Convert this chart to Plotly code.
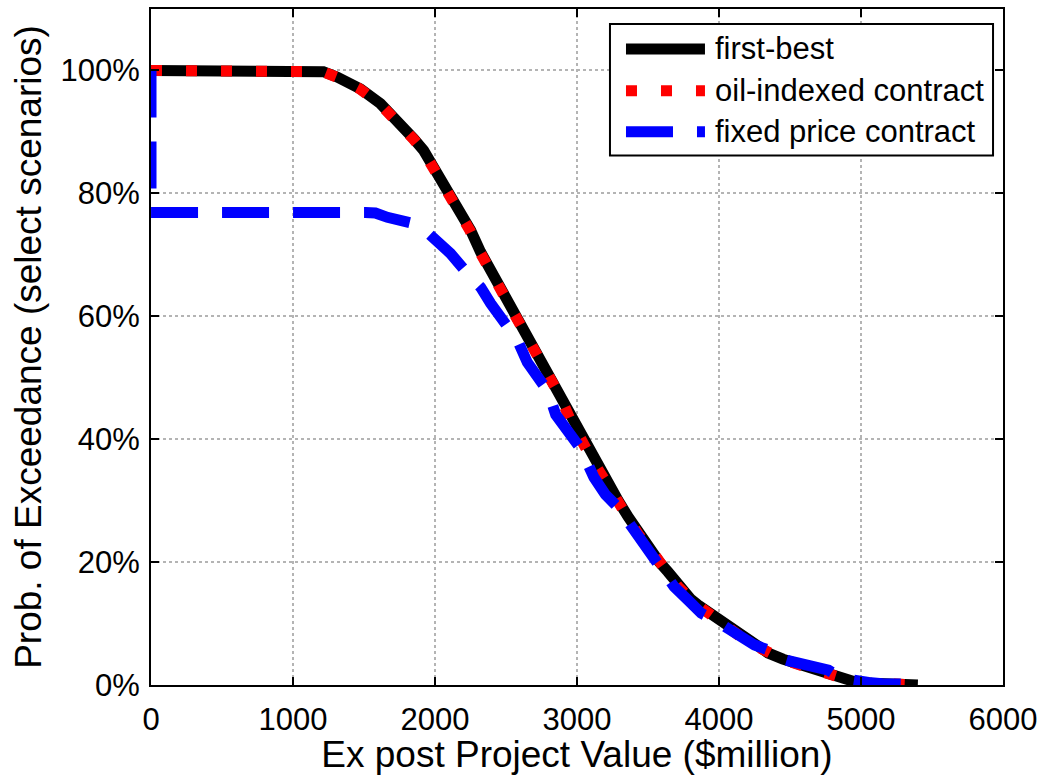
import plotly.graph_objects as go

# ---- data ----
fb_x = [0, 1165, 1214, 1313, 1404, 1475, 1616, 1700, 1778, 1850, 1920, 1980, 2040, 2110, 2159,
        2251, 2320, 2392, 2450, 2512, 2570, 2625, 2690, 2766, 2830, 2886, 2960, 3049, 3130,
        3218, 3290, 3359, 3440, 3522, 3580, 3641, 3720, 3800, 3853, 3945, 4050, 4150, 4227,
        4300, 4347, 4450, 4580, 4700, 4800, 4880, 4960, 5074, 5200, 5300, 5400]
fb_y = [1.0, 1.0, 0.998, 0.989, 0.980, 0.970, 0.946, 0.927, 0.907, 0.889, 0.870, 0.846, 0.821,
        0.800, 0.777, 0.740, 0.705, 0.675, 0.648, 0.621, 0.596, 0.572, 0.545, 0.517, 0.488,
        0.470, 0.432, 0.393, 0.360, 0.328, 0.300, 0.274, 0.245, 0.222, 0.200, 0.184, 0.160,
        0.140, 0.130, 0.115, 0.095, 0.080, 0.068, 0.058, 0.052, 0.042, 0.032, 0.022, 0.014,
        0.008, 0.005, 0.003, 0.002, 0.001, 0.0]

oil_x = [0, 1160, 1210, 1310, 1400, 1470, 1610, 1695, 1772, 1846, 1915, 1976, 2035, 2105, 2155,
         2245, 2315, 2388, 2445, 2506, 2565, 2620, 2684, 2760, 2824, 2880, 2952, 3040, 3122,
         3210, 3282, 3350, 3432, 3514, 3572, 3634, 3712, 3792, 3846, 3938, 4044, 4144, 4222,
         4296, 4343, 4446, 4576, 4696, 4796, 4876, 4956, 5070, 5196, 5296, 5390]
oil_y = [1.0, 1.0, 0.998, 0.989, 0.980, 0.970, 0.946, 0.927, 0.907, 0.889, 0.870, 0.846, 0.821,
         0.800, 0.777, 0.740, 0.705, 0.675, 0.648, 0.621, 0.596, 0.572, 0.545, 0.517, 0.488,
         0.470, 0.432, 0.393, 0.360, 0.328, 0.300, 0.274, 0.245, 0.222, 0.200, 0.184, 0.160,
         0.140, 0.130, 0.115, 0.095, 0.080, 0.068, 0.058, 0.052, 0.042, 0.032, 0.022, 0.014,
         0.008, 0.005, 0.003, 0.002, 0.001, 0.0]

fix_x = [0, 0, 1510, 1580, 1665, 1750, 1850, 1930, 1990, 2110, 2220, 2322, 2392, 2500, 2583,
         2650, 2720, 2795, 2850, 2900, 2960, 3028, 3119, 3200, 3289, 3380, 3472, 3580, 3684,
         3783, 3874, 3966, 4107, 4157, 4250, 4347, 4390, 4480, 4559, 4680, 4771, 4862, 4950,
         5053, 5150, 5378]
fix_y = [1.0, 0.769, 0.769, 0.768, 0.761, 0.757, 0.751, 0.740, 0.727, 0.702, 0.672, 0.647,
         0.621, 0.590, 0.560, 0.525, 0.500, 0.478, 0.440, 0.422, 0.405, 0.384, 0.338, 0.310,
         0.289, 0.258, 0.228, 0.190, 0.160, 0.138, 0.117, 0.106, 0.084, 0.078, 0.065, 0.057,
         0.046, 0.040, 0.036, 0.028, 0.024, 0.011, 0.006, 0.004, 0.002, 0.001]

series_names = ["first-best", "oil-indexed contract", "fixed price contract"]
x_ticks = [0, 1000, 2000, 3000, 4000, 5000, 6000]
y_ticks = [0, 0.2, 0.4, 0.6, 0.8, 1.0]
y_tick_labels = ["0%", "20%", "40%", "60%", "80%", "100%"]

# ---- styles ----
FONT = "Liberation Sans, Arial, sans-serif"
LW = 11
styles = [
    dict(color="#000000", width=LW, dash="solid"),
    dict(color="#ff0000", width=LW, dash="11px,24px"),
    dict(color="#0000ff", width=LW, dash="47px,24px"),
]

fig = go.Figure()
for (xs, ys), name, st in zip([(fb_x, fb_y), (oil_x, oil_y), (fix_x, fix_y)], series_names, styles):
    fig.add_trace(go.Scatter(x=xs, y=ys, mode="lines", name=name, line=st, showlegend=False))

# ---- manual MATLAB-like legend ----
bx0, bx1, by0, by1 = 0.5387, 0.9883, 0.7832, 0.9779
fig.add_shape(type="rect", xref="paper", yref="paper", x0=bx0, x1=bx1, y0=by0, y1=by1,
              line=dict(color="black", width=2), fillcolor="white", layer="above")
rows = [0.941, 0.879, 0.8186]
for ry, name, st in zip(rows, series_names, styles):
    fig.add_shape(type="line", xref="paper", yref="paper", x0=0.5575, x1=0.6502, y0=ry, y1=ry,
                  line=dict(color=st["color"], width=LW, dash=st["dash"]), layer="above")
    fig.add_annotation(xref="paper", yref="paper", x=0.6596, y=ry, text=name, showarrow=False,
                       xanchor="left", yanchor="middle",
                       font=dict(family=FONT, size=31, color="black"))

axis_common = dict(
    showline=True, linecolor="black", linewidth=2, mirror="ticks",
    ticks="inside", ticklen=8, tickwidth=2, tickcolor="black",
    showgrid=True, gridcolor="#b4b4b4", gridwidth=1.5, griddash="3px,3px",
    zeroline=False, tickfont=dict(family=FONT, size=31, color="black"),
)

fig.update_layout(
    width=1044, height=775,
    margin=dict(l=151, r=41, t=7, b=90),
    paper_bgcolor="white", plot_bgcolor="white",
    font=dict(family=FONT, color="black"),
    xaxis=dict(range=[0, 6000], tickvals=x_ticks, ticklabelstandoff=6,
               title=dict(text="Ex post Project Value ($million)",
                          font=dict(family=FONT, size=37, color="black"), standoff=0),
               **axis_common),
    yaxis=dict(range=[0, 1.1], tickvals=y_ticks, ticktext=y_tick_labels, ticklabelstandoff=3,
               title=dict(text="Prob. of Exceedance (select scenarios)",
                          font=dict(family=FONT, size=37, color="black"), standoff=8),
               **axis_common),
)

fig.write_html("out.html")
